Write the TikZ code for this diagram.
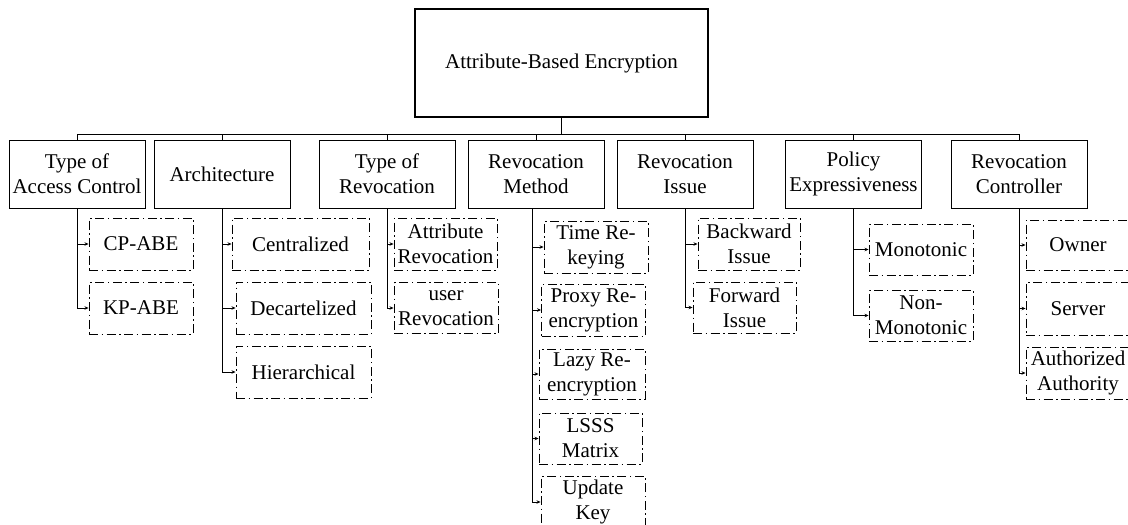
\documentclass[tikz,border=0pt]{standalone}
\usepackage{fontspec}
\setmainfont{Liberation Serif}
\usetikzlibrary{arrows.meta}
\begin{document}
\begin{tikzpicture}[x=1pt,y=-1pt,
 font=\fontsize{21}{25}\selectfont,
 rootbox/.style={draw,line width=2.5pt,minimum width=293pt,minimum height=108pt,inner sep=0pt},
 catbox/.style={draw,line width=1pt,minimum width=136pt,minimum height=68pt,align=center,inner sep=0pt},
 subbox/.style={draw,line width=0.9pt,dash pattern=on 9pt off 3.5pt on 1.5pt off 3.5pt,minimum height=52pt,minimum width=104pt,align=center,inner sep=0pt},
 link/.style={line width=1pt},
 arr/.style={line width=0.9pt,-{Stealth[length=4pt,width=3.5pt]}}]
\useasboundingbox (0,0) rectangle (1128,525);
\node[rootbox] (root) at (561.5,63) {Attribute-Based Encryption};
% level 1
\node[catbox] (tac) at (77,174) {Type of\\Access Control};
\node[catbox] (arch) at (222,174) {Architecture};
\node[catbox] (tor) at (387,174) {Type of\\Revocation};
\node[catbox] (rm) at (536,174) {Revocation\\Method};
\node[catbox] (ri) at (685,174) {Revocation\\Issue};
\node[catbox] (pe) at (853.5,174) {Policy\\Expressiveness};
\node[catbox] (rc) at (1019,174) {Revocation\\Controller};
\foreach \n in {tac,arch,tor,rm,ri,pe,rc}
  \draw[link] (root.south) -- ++(0,16) -| (\n.north);
% children
\node[subbox] (cp) at (141,244) {CP-ABE};
\node[subbox] (kp) at (141,308) {KP-ABE};
\node[subbox,minimum width=137pt] (cen) at (300.5,244) {Centralized};
\node[subbox,minimum width=135pt] (dec) at (303.5,308) {Decartelized};
\node[subbox,minimum width=135pt] (hie) at (303.5,372) {Hierarchical};
\node[subbox,minimum width=103pt] (ar) at (445.5,244) {Attribute\\Revocation};
\node[subbox,minimum height=51pt] (ur) at (446,308) {user\\Revocation};
\node[subbox] (trk) at (596,247) {Time Re-\\keying};
\node[subbox] (pre) at (593.5,310) {Proxy Re-\\encryption};
\node[subbox,minimum width=106pt,minimum height=50pt] (lre) at (592,374) {Lazy Re-\\encryption};
\node[subbox,minimum width=103pt,minimum height=51pt] (lsss) at (590.5,438.5) {LSSS\\Matrix};
\node[subbox] (uk) at (593,502) {Update\\Key};
\node[subbox,minimum width=102pt] (bi) at (749,244) {Backward\\Issue};
\node[subbox,minimum width=103pt,minimum height=51pt] (fi) at (744.5,307.5) {Forward\\Issue};
\node[subbox,minimum height=51pt] (mono) at (921,249.5) {Monotonic};
\node[subbox,minimum height=51pt] (nmono) at (921,315.5) {Non-\\Monotonic};
\node[subbox,minimum height=50pt] (own) at (1078,245) {Owner};
\node[subbox,minimum height=53pt] (srv) at (1078,308.5) {Server};
\node[subbox] (aa) at (1078,373) {Authorized\\Authority};
% connectors
\foreach \c in {cp,kp} \draw[arr] (tac.south) |- (\c.west);
\foreach \c in {cen,dec,hie} \draw[arr] (arch.south) |- (\c.west);
\foreach \c in {ar,ur} \draw[arr] (tor.south) |- (\c.west);
\foreach \c in {trk,pre,lre,lsss,uk} \draw[arr] ([xshift=-4pt]rm.south) |- (\c.west);
\foreach \c in {bi,fi} \draw[arr] (ri.south) |- (\c.west);
\foreach \c in {mono,nmono} \draw[arr] (pe.south) |- (\c.west);
\foreach \c in {own,srv,aa} \draw[arr] (rc.south) |- (\c.west);
\end{tikzpicture}
\end{document}
